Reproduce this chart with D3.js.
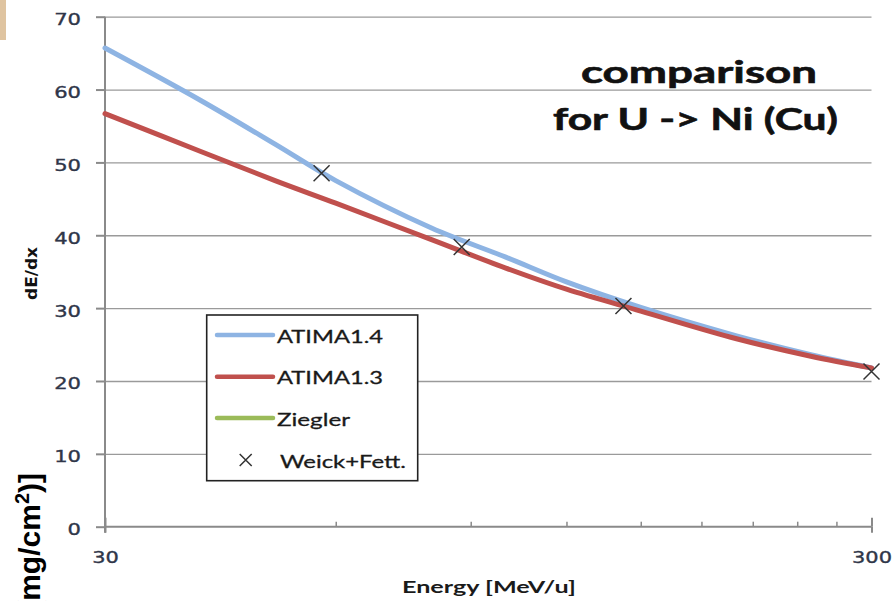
<!DOCTYPE html>
<html>
<head>
<meta charset="utf-8">
<script src="https://cdn.jsdelivr.net/npm/d3@7"></script>
<style>
  html, body { margin: 0; padding: 0; background: #fff; }
  svg { display: block; }
</style>
</head>
<body>
<svg id="chart" width="893" height="601"></svg>
<script>
// Stopping power of U in Ni (Cu): energy in MeV/u, dE/dx in MeV/(mg/cm²)
const energies = [30, 40, 50, 60, 80, 100, 120, 150, 200, 250, 300];
const atima14 = [65.7, 58.5, 52.5, 47.5, 41.0, 37.0, 33.6, 30.1, 26.2, 23.6, 21.8];
const atima13 = [56.7, 51.5, 47.5, 44.4, 39.4, 35.5, 32.6, 29.6, 25.8, 23.4, 21.8];
const ziegler = [];
const weickEnergies = [57.5, 87.6, 142.4, 300];
const weickValues = [48.5, 38.4, 30.3, 21.3];

const yTicks = [0, 10, 20, 30, 40, 50, 60, 70];
const xMajorTicks = [30, 300];
const xMinorTicks = [60, 90, 120, 150, 180, 210, 240, 270];

const legendItems = [
  { name: "ATIMA1.4", type: "line", color: "#8eb4e3" },
  { name: "ATIMA1.3", type: "line", color: "#c0504d" },
  { name: "Ziegler", type: "line", color: "#9bbb59" },
  { name: "Weick+Fett.", type: "marker", color: "#3a3a3a" }
];

const svg = d3.select("#chart");
const plotLeft = 105, plotRight = 871.5, plotTop = 16.7, plotBottom = 526.7;

const x = d3.scaleLog().domain([30, 300]).range([plotLeft, plotRight]);
const y = d3.scaleLinear().domain([0, 70]).range([plotBottom, plotTop]);

const axisColor = "#8a8a8a";
const labelColor = "#2f3649";

// small tan strip in the upper left corner
svg.append("rect").attr("x", 0).attr("y", 0).attr("width", 6).attr("height", 40)
  .attr("fill", "#dfc4a0");

// horizontal gridlines
const grid = svg.append("g").attr("transform", `translate(${plotLeft},0)`)
  .call(d3.axisLeft(y).tickValues(yTicks.filter(d => d > 0)).tickSize(-(plotRight - plotLeft)).tickFormat(""));
grid.select(".domain").remove();
grid.selectAll("line").attr("stroke", "#9a9a9a").attr("stroke-width", 1.3);

// y axis ticks and labels
const yAxis = svg.append("g").attr("transform", `translate(${plotLeft},0)`)
  .call(d3.axisLeft(y).tickValues(yTicks).tickSize(9).tickPadding(15));
yAxis.select(".domain").remove();
yAxis.selectAll("line").attr("stroke", axisColor).attr("stroke-width", 2);
yAxis.selectAll("text")
  .attr("font-family", "DejaVu Sans, Verdana, sans-serif")
  .attr("font-size", 16)
  .attr("fill", labelColor)
  .attr("stroke", labelColor).attr("stroke-width", 0.35)
  .attr("dy", "0.5em")
  .each(function(d) {
    const s = String(d);
    d3.select(this).attr("textLength", s.length * 13.4).attr("lengthAdjust", "spacingAndGlyphs");
  });

// x axis: minor ticks pointing inward
const xMinor = svg.append("g").attr("transform", `translate(0,${plotBottom})`)
  .call(d3.axisBottom(x).tickValues(xMinorTicks).tickSize(-5).tickFormat(""));
xMinor.select(".domain").remove();
xMinor.selectAll("line").attr("stroke", axisColor).attr("stroke-width", 1.5);

// x axis: major ticks crossing the axis line
const xMajorUp = svg.append("g").attr("transform", `translate(0,${plotBottom})`)
  .call(d3.axisBottom(x).tickValues(xMajorTicks).tickSize(-9).tickFormat(""));
xMajorUp.select(".domain").remove();
xMajorUp.selectAll("line").attr("stroke", axisColor).attr("stroke-width", 2);

const xAxis = svg.append("g").attr("transform", `translate(0,${plotBottom})`)
  .call(d3.axisBottom(x).tickValues(xMajorTicks).tickSize(6).tickPadding(18.6).tickFormat(d3.format("d")));
xAxis.select(".domain").remove();
xAxis.selectAll("line").attr("stroke", axisColor).attr("stroke-width", 2);
xAxis.selectAll("text")
  .attr("font-family", "DejaVu Sans, Verdana, sans-serif")
  .attr("font-size", 16)
  .attr("fill", labelColor)
  .attr("stroke", labelColor).attr("stroke-width", 0.35)
  .each(function(d) {
    const s = String(d);
    d3.select(this).attr("textLength", s.length * 13.3).attr("lengthAdjust", "spacingAndGlyphs");
  });

// axis lines
svg.append("line").attr("x1", plotLeft).attr("x2", plotLeft).attr("y1", plotTop).attr("y2", plotBottom + 6)
  .attr("stroke", axisColor).attr("stroke-width", 2);
svg.append("line").attr("x1", plotLeft).attr("x2", plotRight).attr("y1", plotBottom).attr("y2", plotBottom)
  .attr("stroke", axisColor).attr("stroke-width", 2);

// curves
const line = d3.line()
  .x(d => x(d[0]))
  .y(d => y(d[1]))
  .curve(d3.curveCatmullRom.alpha(0.5));

const series = [
  { values: atima14, color: "#8eb4e3" },
  { values: ziegler, color: "#9bbb59" },
  { values: atima13, color: "#c0504d" }
];
series.forEach(s => {
  if (!s.values.length) return;
  svg.append("path")
    .datum(energies.map((e, i) => [e, s.values[i]]))
    .attr("d", line)
    .attr("fill", "none")
    .attr("stroke", s.color)
    .attr("stroke-width", 5)
    .attr("stroke-linecap", "round");
});

// Weick+Fett. points as crosses
function cross(sel, cx, cy, r) {
  sel.append("path")
    .attr("d", `M${cx - r},${cy - r}L${cx + r},${cy + r}M${cx - r},${cy + r}L${cx + r},${cy - r}`)
    .attr("stroke", "#333")
    .attr("stroke-width", 1.5)
    .attr("fill", "none");
}
const marks = svg.append("g");
weickEnergies.forEach((e, i) => cross(marks, x(e), y(weickValues[i]), 8));

// title
const titleFont = "Lato, 'Open Sans', sans-serif";
svg.append("text").attr("x", 581).attr("y", 83)
  .attr("font-family", titleFont).attr("font-weight", "bold").attr("font-size", 30)
  .attr("fill", "#111").attr("stroke", "#111").attr("stroke-width", 0.6)
  .attr("textLength", 236).attr("lengthAdjust", "spacingAndGlyphs")
  .text("comparison");
svg.append("text").attr("x", 553).attr("y", 130)
  .attr("font-family", titleFont).attr("font-weight", "bold").attr("font-size", 30)
  .attr("fill", "#111").attr("stroke", "#111").attr("stroke-width", 0.6)
  .attr("textLength", 285).attr("lengthAdjust", "spacingAndGlyphs")
  .text("for U -> Ni (Cu)");

// axis titles
svg.append("text").attr("x", 402).attr("y", 593)
  .attr("font-family", titleFont).attr("font-weight", "bold").attr("font-size", 17)
  .attr("fill", "#1a1a1a")
  .attr("textLength", 174).attr("lengthAdjust", "spacingAndGlyphs")
  .text("Energy [MeV/u]");

svg.append("text")
  .attr("transform", "translate(37,273.5) rotate(-90)")
  .attr("text-anchor", "middle")
  .attr("font-family", "DejaVu Sans, Verdana, sans-serif").attr("font-weight", "bold").attr("font-size", 16)
  .attr("fill", "#111")
  .attr("textLength", 53).attr("lengthAdjust", "spacingAndGlyphs")
  .text("dE/dx");

// large unit label running off the lower left edge
const unit = svg.append("text")
  .attr("transform", "translate(40,473) rotate(-90)")
  .attr("text-anchor", "end")
  .attr("font-family", "'Liberation Sans', Arial, sans-serif").attr("font-weight", "bold").attr("font-size", 30)
  .attr("fill", "#000");
unit.append("tspan").text("dE/dx [MeV/(mg/cm");
unit.append("tspan").attr("dy", -11).attr("font-size", 20).text("2");
unit.append("tspan").attr("dy", 11).text(")]");

// legend
const lg = svg.append("g");
lg.append("rect").attr("x", 206.7).attr("y", 315).attr("width", 211).attr("height", 165.7)
  .attr("fill", "#fff").attr("stroke", "#222").attr("stroke-width", 1.6);
const rowY = [335, 376.7, 418, 460];
const textW = [106, 106, 73, 126];
legendItems.forEach((item, i) => {
  const cy = rowY[i];
  if (item.type === "line") {
    lg.append("line").attr("x1", 217).attr("x2", 273).attr("y1", cy).attr("y2", cy)
      .attr("stroke", item.color).attr("stroke-width", 4.5).attr("stroke-linecap", "round");
  } else {
    cross(lg, 245.7, cy, 6);
  }
  lg.append("text")
    .attr("x", item.type === "line" ? 277 : 280)
    .attr("y", cy + 7.5)
    .attr("font-family", "Lato, 'Open Sans', sans-serif").attr("font-size", 18)
    .attr("fill", "#1a1a1a").attr("stroke", "#1a1a1a").attr("stroke-width", 0.3)
    .attr("textLength", textW[i]).attr("lengthAdjust", "spacingAndGlyphs")
    .text(item.name);
});
</script>
</body>
</html>
